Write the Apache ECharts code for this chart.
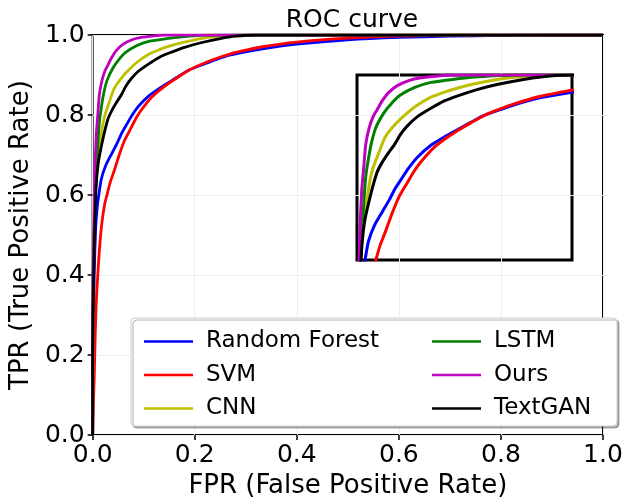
<!DOCTYPE html>
<html>
<head>
<meta charset="utf-8">
<script src="https://cdn.jsdelivr.net/npm/echarts@6/dist/echarts.min.js"></script>
<style>
html,body{margin:0;padding:0;background:#fff;}
#chart{width:635px;height:504px;}
</style>
</head>
<body>
<div id="chart"></div>
<script>
// ---- Data ----
const seriesNames = ['Random Forest', 'SVM', 'CNN', 'LSTM', 'Ours', 'TextGAN'];
const seriesColors = ['#0000ff', '#ff0000', '#bfbf00', '#008000', '#bf00bf', '#000000'];

const rfFPR  = [0,0.001,0.003,0.006,0.009,0.012,0.017,0.026,0.038,0.048,0.057,0.066,0.076,0.09,0.11,0.13,0.15,0.17,0.19,0.215,0.24,0.27,0.3,0.33,0.4,0.5,0.6,0.7,0.8,0.9,1];
const rfTPR  = [0,0.2,0.4,0.52,0.57,0.6,0.64,0.675,0.705,0.73,0.755,0.775,0.797,0.822,0.848,0.866,0.882,0.898,0.913,0.926,0.938,0.95,0.958,0.965,0.977,0.988,0.994,0.997,0.999,1,1];

const svmFPR = [0,0.001,0.003,0.005,0.007,0.01,0.013,0.018,0.024,0.028,0.034,0.042,0.052,0.062,0.074,0.085,0.095,0.116,0.135,0.15,0.17,0.19,0.21,0.235,0.27,0.3,0.33,0.4,0.5,0.6,0.7,1];
const svmTPR = [0,0.06,0.14,0.25,0.33,0.4,0.46,0.53,0.58,0.6,0.63,0.66,0.7,0.735,0.765,0.792,0.812,0.845,0.866,0.88,0.897,0.913,0.925,0.938,0.953,0.962,0.97,0.982,0.992,0.997,1,1];

const cnnFPR = [0,0.001,0.003,0.006,0.01,0.014,0.019,0.024,0.032,0.042,0.058,0.075,0.09,0.11,0.128,0.15,0.175,0.2,0.227,0.26,0.3,1];
const cnnTPR = [0,0.35,0.5,0.62,0.68,0.72,0.77,0.8,0.83,0.866,0.895,0.918,0.935,0.952,0.962,0.972,0.981,0.988,0.994,0.998,1,1];

const lstmFPR = [0,0,0.002,0.005,0.009,0.013,0.016,0.021,0.028,0.04,0.051,0.064,0.086,0.11,0.145,0.18,0.21,0.25,1];
const lstmTPR = [0,0.28,0.45,0.6,0.7,0.78,0.81,0.85,0.886,0.918,0.938,0.956,0.973,0.984,0.991,0.996,0.999,1,1];

const oursFPR = [0,0,0.002,0.004,0.007,0.01,0.013,0.018,0.024,0.03,0.037,0.047,0.06,0.077,0.095,0.12,0.14,1];
const oursTPR = [0,0.3,0.5,0.65,0.75,0.8,0.85,0.885,0.91,0.925,0.943,0.962,0.977,0.988,0.994,0.998,1,1];

const ganFPR = [0,0,0.002,0.006,0.011,0.021,0.03,0.037,0.046,0.056,0.065,0.075,0.09,0.11,0.13,0.15,0.18,0.21,0.25,0.28,0.32,1];
const ganTPR = [0,0.2,0.4,0.6,0.68,0.745,0.79,0.81,0.83,0.85,0.872,0.89,0.91,0.928,0.944,0.955,0.969,0.98,0.991,0.997,1,1];

const axisTicks = [0, 0.2, 0.4, 0.6, 0.8, 1.0];
const insetX = [0, 0.32];
const insetY = [0.6, 1.0];

const fprList = [rfFPR, svmFPR, cnnFPR, lstmFPR, oursFPR, ganFPR];
const tprList = [rfTPR, svmTPR, cnnTPR, lstmTPR, oursTPR, ganTPR];

// ---- Chart ----
const FONT = 'DejaVu Sans';
const chart = echarts.init(document.getElementById('chart'), null, {renderer: 'canvas'});

function pairs(i) { return fprList[i].map((x, k) => [x, tprList[i][k]]); }

const series = [];
seriesNames.forEach((name, i) => {
  series.push({
    name: name, type: 'line', xAxisIndex: 0, yAxisIndex: 0,
    data: pairs(i), showSymbol: false, symbol: 'none', smooth: 0.2,
    lineStyle: {color: seriesColors[i], width: 2.8}, itemStyle: {color: seriesColors[i]},
    z: 3 + i, clip: true, animation: false
  });
});
seriesNames.forEach((name, i) => {
  series.push({
    name: name, type: 'line', xAxisIndex: 1, yAxisIndex: 1,
    data: pairs(i), showSymbol: false, symbol: 'none', smooth: 0.2,
    lineStyle: {color: seriesColors[i], width: 3}, itemStyle: {color: seriesColors[i]},
    z: 3 + i, clip: true, animation: false
  });
});

const legendCommon = {
  orient: 'vertical', icon: 'rect', itemWidth: 49, itemHeight: 2.5, itemGap: 10.5,
  selectedMode: false, z: 20,
  textStyle: {fontFamily: FONT, fontSize: 23, color: '#000', lineHeight: 23, padding: [0, 0, 0, 8]}
};

chart.setOption({
  animation: false,
  backgroundColor: '#fff',
  title: {
    text: 'ROC curve', left: 347, top: 3, textAlign: 'center',
    textStyle: {fontFamily: FONT, fontSize: 25, fontWeight: 'normal', color: '#000'}
  },
  legend: [
    Object.assign({data: seriesNames.slice(0, 3), left: 139, top: 325}, legendCommon),
    Object.assign({data: seriesNames.slice(3, 6), left: 427, top: 325}, legendCommon)
  ],
  graphic: [{
    type: 'rect', z: 10, silent: true,
    shape: {x: 131, y: 318, width: 486, height: 108, r: 4},
    style: {fill: '#fff', stroke: '#cccccc', lineWidth: 1,
            shadowColor: 'rgba(0,0,0,0.3)', shadowBlur: 0, shadowOffsetX: 2, shadowOffsetY: 2}
  }],
  grid: [
    {left: 92, right: 32, top: 35, bottom: 67, show: true, borderColor: '#000', borderWidth: 2,
     backgroundColor: 'rgba(0,0,0,0)', containLabel: false},
    {left: 357, top: 75, width: 215, height: 185, show: true, borderColor: '#000', borderWidth: 3,
     backgroundColor: 'rgba(0,0,0,0)', containLabel: false}
  ],
  xAxis: [
    {type: 'value', gridIndex: 0, min: axisTicks[0], max: axisTicks[axisTicks.length - 1], interval: 0.2,
     name: 'FPR (False Positive Rate)', nameLocation: 'middle', nameGap: 37,
     nameTextStyle: {fontFamily: FONT, fontSize: 26, color: '#000'},
     axisLine: {show: false}, axisTick: {show: true, length: 5, lineStyle: {color: '#000', width: 1.5}},
     axisLabel: {fontFamily: FONT, fontSize: 25, color: '#000', margin: 8,
                 formatter: v => v.toFixed(1)},
     splitLine: {show: true, lineStyle: {color: '#eeeeee', width: 1}}},
    {type: 'value', gridIndex: 1, min: insetX[0], max: insetX[1], show: false,
     splitLine: {show: false}}
  ],
  yAxis: [
    {type: 'value', gridIndex: 0, min: axisTicks[0], max: axisTicks[axisTicks.length - 1], interval: 0.2,
     name: 'TPR (True Positive Rate)', nameLocation: 'middle', nameGap: 56,
     nameTextStyle: {fontFamily: FONT, fontSize: 26, color: '#000'},
     axisLine: {show: false}, axisTick: {show: true, length: 5, lineStyle: {color: '#000', width: 1.5}},
     axisLabel: {fontFamily: FONT, fontSize: 25, color: '#000', margin: 8,
                 formatter: v => v.toFixed(1)},
     splitLine: {show: true, lineStyle: {color: '#eeeeee', width: 1}}},
    {type: 'value', gridIndex: 1, min: insetY[0], max: insetY[1], show: false,
     splitLine: {show: false}}
  ],
  series: series
});
</script>
</body>
</html>
